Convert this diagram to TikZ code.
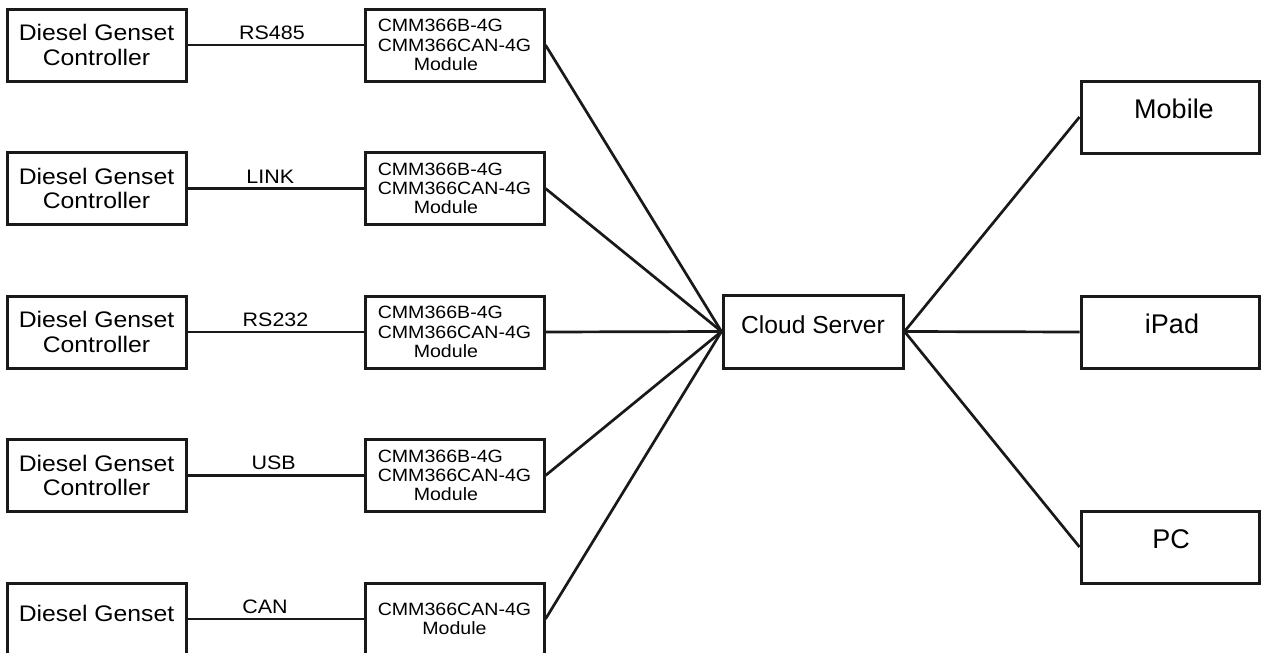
\documentclass[tikz,border=0pt]{standalone}
\usepackage{fontspec}
\setmainfont{Liberation Sans}
\newfontfamily\wideface[FakeStretch=1.1]{Liberation Sans}
\usetikzlibrary{shapes.geometric,arrows}
\tikzstyle{genset} = [rectangle,minimum width=179pt,minimum height=72pt,inner sep=0pt,align=center,draw=black!90,line width=3pt,font=\wideface\fontsize{22.5}{24.6}\selectfont]
\tikzstyle{module} = [rectangle,minimum width=179pt,minimum height=72pt,inner sep=0pt,draw=black!90,line width=3pt,font=\wideface\fontsize{17.8}{19.2}\selectfont]
\tikzstyle{server} = [rectangle,minimum width=180pt,minimum height=73pt,inner sep=0pt,draw=black!90,line width=3pt,font=\fontsize{24.6}{28}\selectfont,text height=18pt,text depth=14.4pt]
\tikzstyle{device} = [rectangle,minimum width=178pt,minimum height=72pt,inner sep=0pt,draw=black!90,line width=3pt,font=\fontsize{27}{30}\selectfont,text height=20pt,text depth=18pt]
\tikzstyle{link}=[line width=2.7pt,draw=black!90]
\tikzstyle{bus}=[above=4pt,inner sep=0pt,font=\wideface\fontsize{19.5}{22}\selectfont]

\begin{document}
\begin{tikzpicture}[x=1pt,y=-1pt,node distance=143.5pt]
\useasboundingbox (0,0) rectangle (1261,653);
% controllers
\node(dg1)[genset] at (96.5,45){Diesel Genset\\Controller};
\node(dg2)[genset,below of=dg1]{Diesel Genset\\Controller};
\node(dg3)[genset,below of=dg2]{Diesel Genset\\Controller};
\node(dg4)[genset,below of=dg3]{Diesel Genset\\Controller};
\node(dg5)[genset,below of=dg4,text height=16pt,text depth=12pt]{Diesel Genset};
% 4G modules
\node(m1)[module,align=left] at (454.5,45){CMM366B-4G\\CMM366CAN-4G\\\hspace*{36pt}Module};
\node(m2)[module,align=left,below of=m1]{CMM366B-4G\\CMM366CAN-4G\\\hspace*{36pt}Module};
\node(m3)[module,align=left,below of=m2]{CMM366B-4G\\CMM366CAN-4G\\\hspace*{36pt}Module};
\node(m4)[module,align=left,below of=m3]{CMM366B-4G\\CMM366CAN-4G\\\hspace*{36pt}Module};
\node(m5)[module,align=center,below of=m4]{CMM366CAN-4G\\Module};
% cloud and terminals
\node(srv)[server] at (813,331.5){Cloud Server};
\node(mobile)[device] at (1170,117){\hspace*{8pt}Mobile};
\node(ipad)[device,below of=mobile,node distance=215pt]{\hspace*{4pt}iPad};
\node(pc)[device,below of=ipad,node distance=215pt]{\hspace*{2pt}PC};

\draw[link](dg1)--node[bus,pos=0.48]{RS485}(m1);
\draw[link](dg2)--node[bus,pos=0.47]{LINK}(m2);
\draw[link](dg3)--node[bus]{RS232}(m3);
\draw[link](dg4)--node[bus,pos=0.49]{USB}(m4);
\draw[link](dg5)--node[bus,pos=0.44]{CAN}(m5);

\draw[link](m1.east)--(srv.west);
\draw[link](m2.east)--(srv.west);
\draw[link](m3.east)--(srv.west);
\draw[link](m4.east)--(srv.west);
\draw[link](m5.east)--(srv.west);

\draw[link](srv.east)--(mobile.west);
\draw[link](srv.east)--(ipad.west);
\draw[link](srv.east)--(pc.west);
\end{tikzpicture}
\end{document}
